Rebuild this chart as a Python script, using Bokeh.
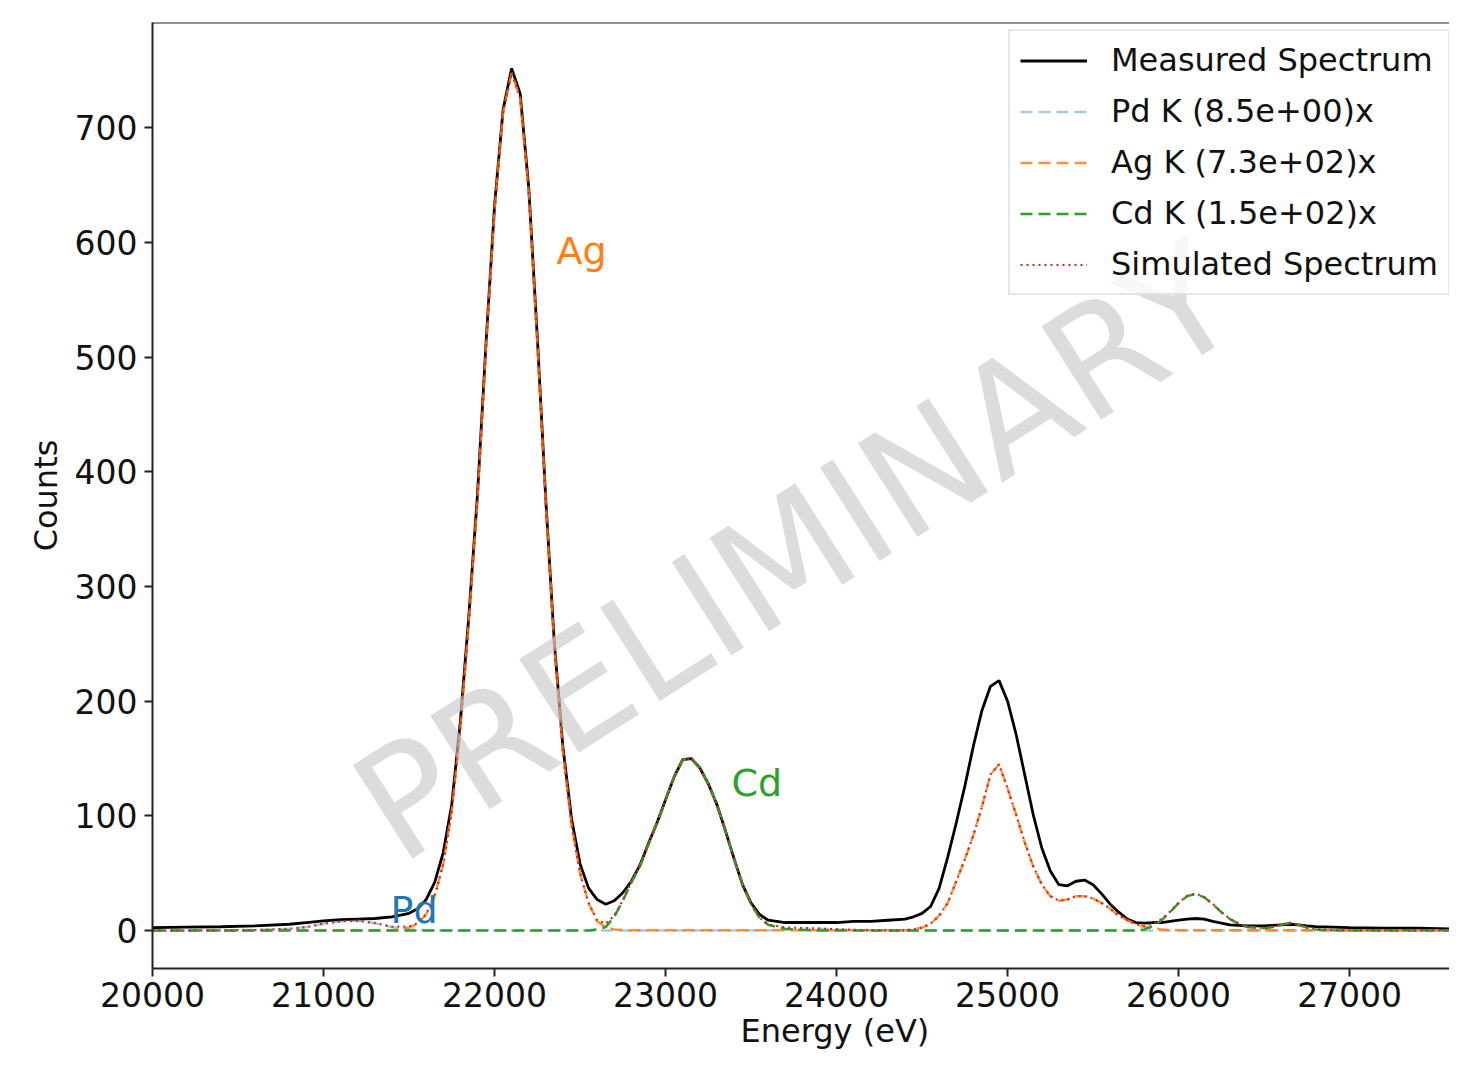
from bokeh.plotting import figure
from bokeh.models import Range1d, FixedTicker, Label, Span, Title
from bokeh.embed import file_html
from bokeh.resources import INLINE

# ---------------- data ----------------
energy = [20000, 20200, 20400, 20600, 20800,
          20900, 21000, 21100, 21200, 21300, 21400,
          21500, 21550, 21600, 21650, 21700, 21750, 21800, 21850, 21900, 21950,
          22000, 22050, 22100, 22150, 22200, 22250, 22300, 22350, 22400, 22450,
          22500, 22550, 22600, 22650, 22700, 22750, 22800, 22850, 22900, 22950,
          23000, 23050, 23100, 23150, 23200, 23250, 23300, 23350, 23400, 23450,
          23500, 23550, 23600,
          23700, 23800, 23900, 24000, 24100, 24200, 24300, 24400,
          24450, 24500, 24550, 24600, 24650, 24700, 24750, 24800, 24850, 24900,
          24950, 25000, 25050, 25100, 25150, 25200, 25250, 25300, 25350, 25400,
          25450, 25500, 25550, 25600, 25650, 25700, 25750, 25800, 25850, 25900,
          25950, 26000, 26050, 26100, 26150, 26200, 26250, 26300, 26350, 26400,
          26500, 26550, 26600, 26650, 26700, 26750, 26800,
          26900, 27000, 27200, 27400, 27600, 27800]

measured = [2.5, 3, 3.3, 4, 5.5,
            7, 8.5, 9.5, 10, 10.5, 12,
            15, 19, 27, 42, 68, 110, 182, 275, 380, 512,
            632, 716, 752, 730, 648, 518, 375, 250, 160, 98,
            58, 37, 27, 23, 26, 33, 43, 57, 76, 94,
            114, 134, 149, 150, 142, 128, 110, 87, 63, 40,
            24, 14, 9,
            7, 7, 7, 7, 8, 8, 9, 10,
            12, 15, 21, 37, 64, 94, 126, 161, 192, 213,
            218, 200, 171, 136, 101, 72, 52, 40, 39, 43,
            44, 40, 32, 23, 16, 10, 7, 6.5, 7, 7,
            8, 9, 10, 10.5, 10, 8, 6.5, 5, 4.5, 4,
            4, 4.5, 5, 5.5, 5, 4, 3.5,
            3, 2.5, 2, 2, 1.5, 1.5]

pd_k = [0, 0, 0.2, 0.5, 1.5,
        3, 6, 8, 8.5, 6.5, 3,
        1, 0.5, 0.2, 0, 0, 0, 0, 0, 0, 0,
        0, 0, 0, 0, 0, 0, 0, 0, 0, 0,
        0, 0, 0, 0, 0, 0, 0, 0, 0, 0,
        0, 0, 0, 0, 0, 0, 0, 0, 0, 0,
        0, 0, 0,
        1, 1.5, 1.5, 1, 0.4, 0.1, 0, 0,
        0, 0, 0, 0, 0, 0, 0, 0, 0, 0,
        0, 0, 0, 0, 0, 0, 0, 0, 0, 0,
        0, 0, 0, 0, 0, 0, 0, 0, 0, 0,
        0, 0, 0, 0, 0, 0, 0, 0, 0, 0,
        0, 0, 0, 0, 0, 0, 0,
        0, 0, 0, 0, 0, 0]

ag_k = [0, 0, 0, 0, 0,
        0, 0, 0, 0, 0, 0.3,
        2.5, 6, 14, 30, 58, 104, 176, 270, 375, 508,
        628, 714, 748, 726, 644, 514, 372, 247, 156, 92,
        50, 24, 8, 3, 1, 0.5, 0.3, 0.2, 0.2, 0.2,
        0.2, 0.2, 0.2, 0.2, 0.2, 0.2, 0.2, 0.2, 0.2, 0.2,
        0.2, 0.2, 0.2,
        0.2, 0.2, 0.2, 0.2, 0.2, 0.2, 0.2, 0.2,
        1, 2.5, 6, 13, 24, 43, 62, 83, 108, 136,
        145, 124, 101, 77, 56, 40, 30, 26, 27, 30,
        30, 28, 24, 19, 13, 9, 5.5, 3, 2, 1,
        0.5, 0.3, 0.2, 0.2, 0.2, 0.2, 0.2, 0.2, 0.2, 0.2,
        0.2, 0.2, 0.2, 0.2, 0.2, 0.2, 0.2,
        0.2, 0.2, 0.2, 0.2, 0.2, 0.2]

cd_k = [0, 0, 0, 0, 0,
        0, 0, 0, 0, 0, 0,
        0, 0, 0, 0, 0, 0, 0, 0, 0, 0,
        0, 0, 0, 0, 0, 0, 0, 0, 0, 0,
        0, 0, 1, 3, 12, 26, 42, 56, 75, 94,
        114, 134, 149, 150, 142, 128, 110, 87, 63, 40,
        23, 11, 5,
        1.5, 0.5, 0, 0, 0, 0, 0, 0,
        0, 0, 0, 0, 0, 0, 0, 0, 0, 0,
        0, 0, 0, 0, 0, 0, 0, 0, 0, 0,
        0, 0, 0, 0, 0, 0, 0, 1, 4, 9,
        16, 24, 30, 32, 29, 23, 16, 10, 6, 3,
        2, 3, 5, 6.5, 5, 2.5, 1,
        0.3, 0, 0, 0, 0, 0]

simulated = [0, 0, 0.2, 0.5, 1.5,
             3, 6, 8, 8.5, 6.5, 3.3,
             3.5, 6.5, 14.2, 30, 58, 104, 176, 270, 375, 508,
             628, 714, 748, 726, 644, 514, 372, 247, 156, 92,
             50, 24, 9, 6, 13, 26.5, 42.3, 56.2, 75.2, 94.2,
             114.2, 134.2, 149.2, 150.2, 142.2, 128.2, 110.2, 87.2, 63.2, 40.2,
             23.2, 11.2, 5.2,
             2.7, 2.2, 1.7, 1.2, 0.6, 0.3, 0.2, 0.2,
             1, 2.5, 6, 13, 24, 43, 62, 83, 108, 136,
             145, 124, 101, 77, 56, 40, 30, 26, 27, 30,
             30, 28, 24, 19, 13, 9, 5.5, 4, 6, 10,
             16.5, 24.3, 30.2, 32.2, 29.2, 23.2, 16.2, 10.2, 6.2, 3.2,
             2.2, 3.2, 5.2, 6.7, 5.2, 2.7, 1.2,
             0.5, 0.2, 0.2, 0.2, 0.2, 0.2]

series_labels = ["Measured Spectrum", "Pd K (8.5e+00)x", "Ag K (7.3e+02)x",
                 "Cd K (1.5e+02)x", "Simulated Spectrum"]
element_names = ["Ag", "Cd", "Pd"]
element_x = [22363, 23386, 21392]
element_y = [593, 129, 18]
element_colors = ["#ff7f0e", "#2ca02c", "#1f77b4"]

x_ticks = [20000, 21000, 22000, 23000, 24000, 25000, 26000, 27000]
y_ticks = [0, 100, 200, 300, 400, 500, 600, 700]

FONT = "DejaVu Sans"

# ---------------- figure ----------------
p = figure(width=1449, height=1049, output_backend="svg", toolbar_location=None,
           x_range=Range1d(20000, 27584), y_range=Range1d(-33.1, 792),
           min_border_left=152, min_border_right=0, min_border_top=22,
           min_border_bottom=76)
p.xgrid.visible = False
p.ygrid.visible = False
p.outline_line_color = None
p.background_fill_color = "white"
p.border_fill_color = "white"

p.line(energy, measured, color="black", line_width=2.8, legend_label=series_labels[0])
p.line(energy, pd_k, color="#1f77b4", line_alpha=0.4, line_width=2.5,
       line_dash="12 6", legend_label=series_labels[1])
p.line(energy, ag_k, color="#ff7f0e", line_alpha=0.85, line_width=2.5,
       line_dash="12 6", legend_label=series_labels[2])
p.line(energy, cd_k, color="#2ca02c", line_width=2.5,
       line_dash="12 6", legend_label=series_labels[3])
p.line(energy, simulated, color="#d62728", line_width=2.2,
       line_dash="2 4", legend_label=series_labels[4])

# axes
for ax in (p.xaxis[0], p.yaxis[0]):
    ax.axis_line_width = 2
    ax.axis_line_color = "#222222"
    ax.major_tick_line_width = 2
    ax.major_tick_line_color = "#222222"
    ax.major_tick_out = 8
    ax.major_tick_in = 0
    ax.minor_tick_line_color = None
    ax.major_label_text_font = FONT
    ax.major_label_text_font_size = "33px"
    ax.major_label_text_color = "#111111"
    ax.axis_label_text_font = FONT
    ax.axis_label_text_font_size = "32px"
    ax.axis_label_text_font_style = "normal"
    ax.axis_label_text_color = "#111111"

p.xaxis.ticker = FixedTicker(ticks=x_ticks)
p.yaxis.ticker = FixedTicker(ticks=y_ticks)
p.xaxis.major_label_standoff = 5
p.yaxis.major_label_standoff = 7
p.yaxis.axis_label = "Counts"
p.yaxis.axis_label_standoff = 7

# x axis title, placed where the original (wider) axes centred it
p.add_layout(Title(text="Energy (eV)", align="left", offset=588, standoff=0,
                   text_font=FONT, text_font_size="32px", text_font_style="normal",
                   text_color="#111111"), "below")

# top spine
p.add_layout(Span(location=792, dimension="width", line_color="#222222", line_width=2))

# legend
leg = p.legend[0]
leg.location = (856, 673)
leg.label_text_font = FONT
leg.label_text_font_size = "32px"
leg.label_text_color = "#111111"
leg.glyph_width = 67
leg.glyph_height = 37
leg.label_height = 37
leg.spacing = 13
leg.padding = 10
leg.margin = 0
leg.label_standoff = 24
leg.border_line_color = "#cccccc"
leg.border_line_width = 2
leg.background_fill_alpha = 0.8

# element labels
for name, ex, ey, col in zip(element_names, element_x, element_y, element_colors):
    p.add_layout(Label(x=ex, y=ey, text=name, text_font=FONT, text_font_size="38px",
                       text_color=col, text_align="left", text_baseline="alphabetic"))

# watermark
p.add_layout(Label(x=23760, y=330, text="PRELIMINARY", text_font=FONT,
                   text_font_size="152px", text_color="#c4c4c4", text_alpha=0.6,
                   angle=32.5, angle_units="deg", text_align="center",
                   text_baseline="alphabetic"))

open("out.html", "w").write(file_html(p, INLINE))
